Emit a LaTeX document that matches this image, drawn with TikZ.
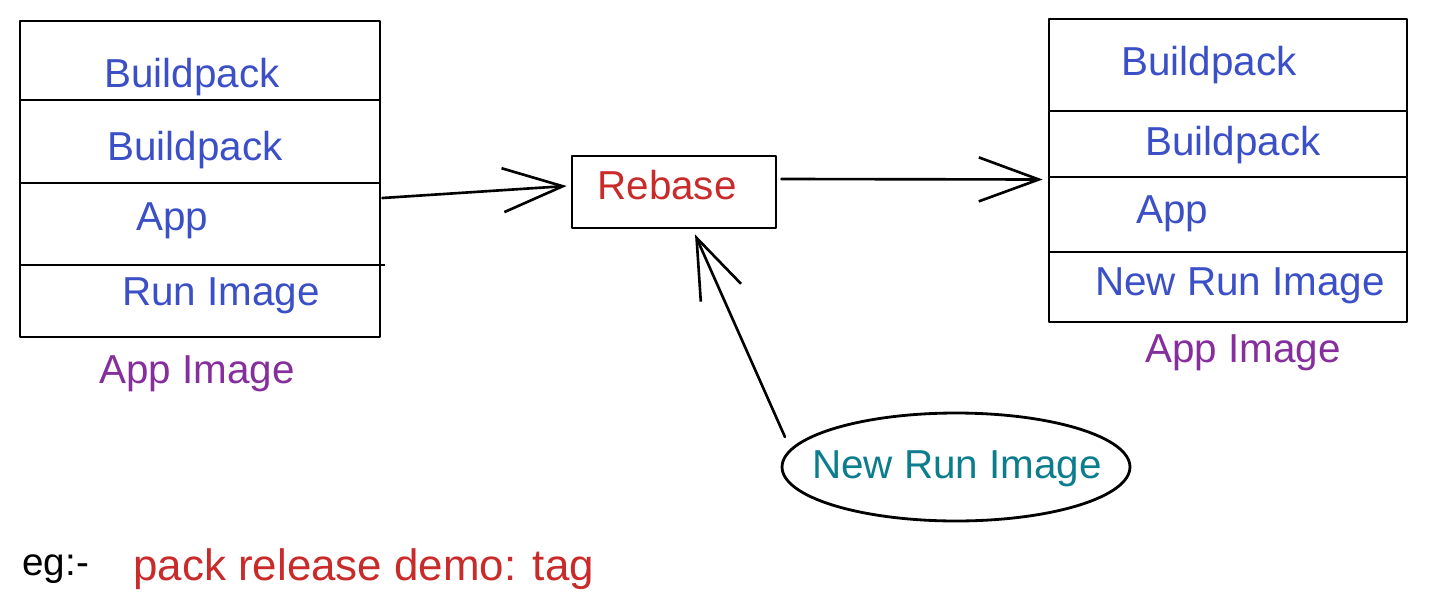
\documentclass[tikz,border=0pt]{standalone}
\usepackage{fontspec}
\setmainfont{Liberation Sans}
\usetikzlibrary{arrows.meta,shapes.geometric,calc}
\definecolor{cblue}{HTML}{3B4FC6}
\definecolor{cpurple}{HTML}{862E9C}
\definecolor{cred}{HTML}{C92A2A}
\definecolor{cteal}{HTML}{0C7D8C}
\tikzset{
  boxline/.style={draw=black, line width=1.6pt, line join=round},
  layertxt/.style={anchor=base, text=cblue, font=\fontsize{23}{28}\selectfont, inner sep=0pt},
  captxt/.style={anchor=base, text=cpurple, font=\fontsize{23}{28}\selectfont, inner sep=0pt},
  arr/.style={draw=black, line width=1.5pt, line cap=round,
    -{Straight Barb[length=1.2cm, width=0.88cm, line width=1.5pt]}},
}
\begin{document}
\begin{tikzpicture}[x=0.02cm, y=-0.02cm]
\useasboundingbox (0,0) rectangle (1432,612);

% left box
\node[boxline, rectangle, minimum width=7.2cm, minimum height=6.32cm, inner sep=0pt] (lbox) at (200,179) {};
\draw[boxline] (lbox.west |- 0,100) -- (lbox.east |- 0,100);
\draw[boxline] (lbox.west |- 0,183) -- (lbox.east |- 0,183);
\draw[boxline] (lbox.west |- 0,265) -- ($(lbox.east |- 0,265)+(4,0)$);
\node[layertxt] (lb1) at (192,87) {Buildpack};
\node[layertxt] (lb2) at (195,160) {Buildpack};
\node[layertxt] (lapp) at (172,230) {App};
\node[layertxt] (lrun) at (221,305) {Run Image};
\node[captxt] (limg) at (197,383) {App Image};

% right box
\node[boxline, rectangle, minimum width=7.16cm, minimum height=6.06cm, inner sep=0pt] (rbox) at (1228,170.5) {};
\draw[boxline] (rbox.west |- 0,111) -- (rbox.east |- 0,111);
\draw[boxline] (rbox.west |- 0,177) -- (rbox.east |- 0,177);
\draw[boxline] (rbox.west |- 0,252) -- (rbox.east |- 0,252);
\node[layertxt] (rb1) at (1209,75) {Buildpack};
\node[layertxt] (rb2) at (1233,155) {Buildpack};
\node[layertxt] (rapp) at (1172,223) {App};
\node[layertxt] (rrun) at (1240,295) {New Run Image};
\node[captxt] (rimg) at (1243,362) {App Image};

% rebase
\node[boxline, rectangle, minimum width=4.08cm, minimum height=1.44cm, inner sep=0pt] (reb) at (674,192) {};
\node[anchor=base, text=cred, font=\fontsize{23}{28}\selectfont, inner sep=0pt] (rebtxt) at (667,199) {Rebase};

% new run image ellipse
\node[boxline, ellipse, minimum width=6.96cm, minimum height=2.16cm, inner sep=0pt] (ell) at (956,467) {};
\node[anchor=base, text=cteal, font=\fontsize{23}{28}\selectfont, inner sep=0pt] (elltxt) at (957,478) {New Run Image};

% arrows
\draw[arr] ($(lbox.east)+(1,19)$) -- ($(reb.west)+(-4,-6)$);
\draw[arr] ($(reb.east)+(4,-13)$) -- ($(rbox.west)+(-5,9)$);
\draw[arr] ($(ell.center)+(-171,-30)$) -- ($(reb.south)+(21,5)$);

% bottom text
\node[anchor=base west, text=black, font=\fontsize{22}{26}\selectfont, inner sep=0pt] (eg) at (22,575) {eg:-};
\node[anchor=base west, text=cred, font=\fontsize{25}{30}\selectfont, inner sep=0pt] (cmd) at (133,580) {pack release demo: tag};
\end{tikzpicture}
\end{document}
